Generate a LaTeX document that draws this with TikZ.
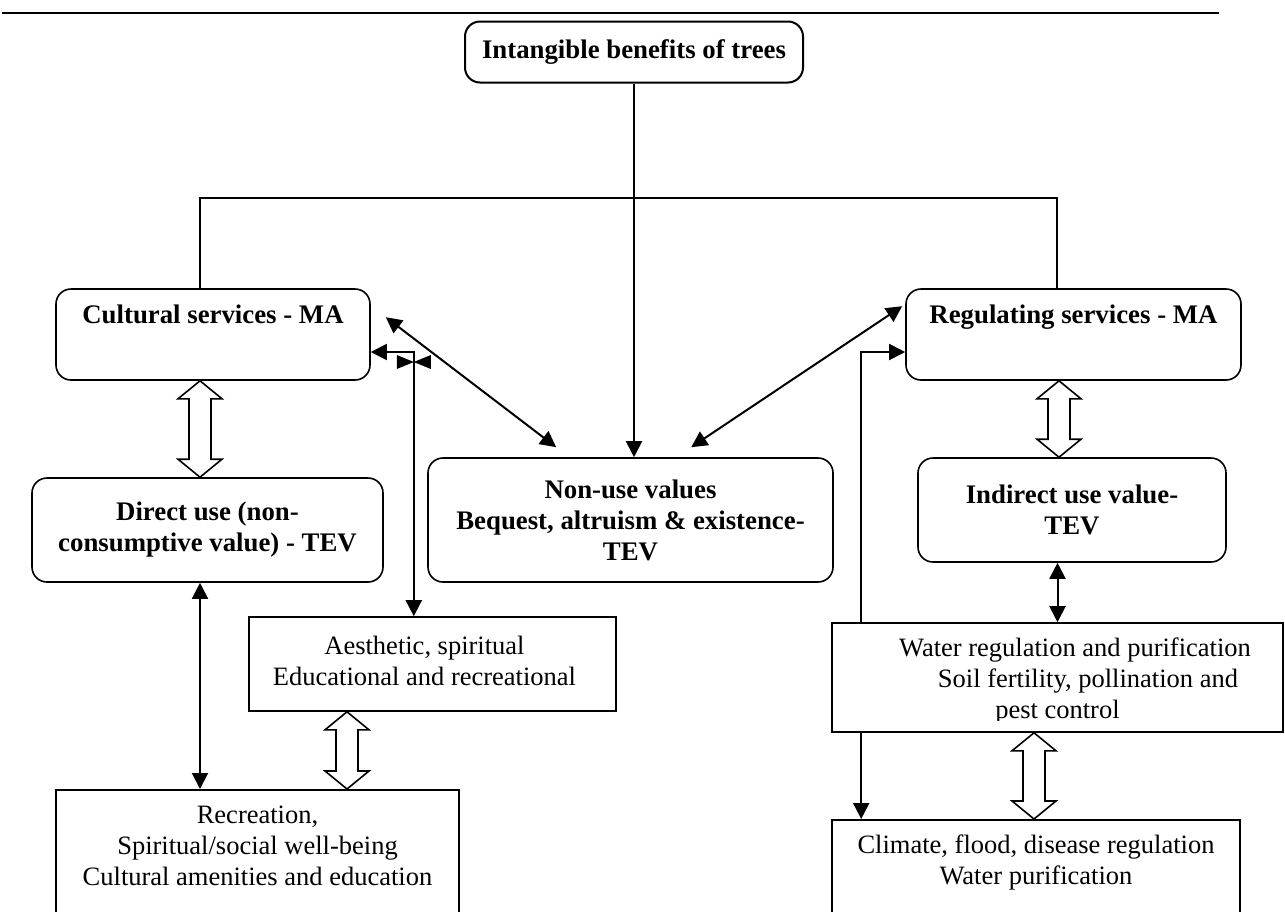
\documentclass[tikz,border=0pt]{standalone}
\usepackage{fontspec}
\setmainfont{Liberation Serif}
\usetikzlibrary{calc,arrows.meta}

% hollow double-headed block arrow between two named points (top, bottom)
\newcommand\hollowdbl[2]{%
  \draw[hollow] (#1) -- ($(#1)+(22,18)$) -- ($(#1)+(11,18)$) -- ($(#2)+(11,-18)$)
    -- ($(#2)+(22,-18)$) -- (#2) -- ($(#2)+(-22,-18)$) -- ($(#2)+(-11,-18)$)
    -- ($(#1)+(-11,18)$) -- ($(#1)+(-22,18)$) -- cycle;}

\tikzset{
  rbox/.style={draw, line width=1.6pt, rounded corners=15pt, fill=white, align=center,
    inner sep=0pt, font=\bfseries\fontsize{26.8}{31}\selectfont},
  sbox/.style={draw, line width=1.6pt, fill=white, inner sep=0pt},
  txt/.style={align=center, inner sep=0pt, font=\fontsize{26.5}{31}\selectfont},
  conn/.style={line width=2pt, -{Triangle[length=16pt,width=16pt]}},
  dconn/.style={line width=2pt, {Triangle[length=16pt,width=16pt]}-{Triangle[length=16pt,width=16pt]}},
  tree/.style={line width=1.6pt},
  hollow/.style={line width=1.6pt, fill=white, line join=miter},
}

\begin{document}
\begin{tikzpicture}[x=1pt, y=-1pt]
\useasboundingbox (0,0) rectangle (1285,911);
\clip (0,0) rectangle (1285,911);

% rule above the figure
\draw[line width=2.2pt] (2,13) -- (1219,13);

% boxes
\node[rbox, line width=2pt, minimum width=338pt, minimum height=61pt] (intang) at (634,52) {Intangible benefits of trees};
\node[rbox, minimum width=314pt, minimum height=91pt] (cult) at (213,334.5) {Cultural services - MA\\\strut};
\node[rbox, minimum width=335pt, minimum height=91pt] (reg) at (1073.5,334.5) {Regulating services - MA\\\strut};
\node[rbox, minimum width=351pt, minimum height=104pt] (direct) at (207.5,530) {Direct use (non-\\consumptive value) - TEV};
\node[rbox, minimum width=405pt, minimum height=124pt] (nonuse) at (630.5,520) {Non-use values\\Bequest, altruism \& existence-\\TEV};
\node[rbox, minimum width=308pt, minimum height=104pt] (indirect) at (1072,510) {Indirect use value-\\TEV};

\node[sbox, minimum width=367pt, minimum height=94pt] (aes) at (432.5,664) {};
\node[txt] at ($(aes.center)+(-8,-3)$) {Aesthetic, spiritual\\Educational and recreational};

\node[sbox, anchor=north, minimum width=403pt, minimum height=170pt] (recre) at (257.5,789) {};
\node[txt] at ($(recre.north)+(0,57)$) {Recreation,\\Spiritual/social well-being\\Cultural amenities and education};

\node[sbox, anchor=north, minimum width=408pt, minimum height=140pt] (climate) at (1036,819) {};
\node[txt] at ($(climate.north)+(0,43)$) {Climate, flood, disease regulation\\Water purification};

% tree from the top box to the two service boxes
\coordinate (jl) at ($(cult.north)+(-13,-90)$);
\coordinate (jr) at ($(reg.north)+(-16.5,-90)$);
\draw[tree] (jl |- cult.north) -- (jl) -- (jr) -- (jr |- reg.north);
\draw[conn] (intang.south) -- (intang.south |- nonuse.north);

% links to the non-use values
\draw[dconn] ($(cult.north east)+(15,29)$) -- ($(nonuse.north west)+(129,-10)$);
\draw[dconn] ($(reg.north west)+(-3,18)$) -- ($(nonuse.north west)+(264,-10)$);

% cultural services <-> aesthetic
\coordinate (cv) at ($(cult.east)+(43,17.5)$);
\draw[dconn] ($(cult.east)+(0,17.5)$) -- (cv) -- (cv |- aes.north);
\coordinate (bow) at ($(cv)+(0,10)$);
\fill ($(bow)+(-17,-7)$) -- ($(bow)+(-17,7)$) -- (bow) -- cycle;
\fill ($(bow)+(17,-7)$) -- ($(bow)+(17,7)$) -- (bow) -- cycle;

% regulating services <-> climate (runs behind the water box)
\coordinate (rv) at ($(reg.west)+(-44,17.5)$);
\draw[dconn] ($(reg.west)+(0,17.5)$) -- (rv) -- (rv |- climate.north);

\node[sbox, minimum width=451pt, minimum height=109pt] (water) at (1057.5,677.5) {};
\begin{scope}
  \clip (water.north west) rectangle ($(water.south east)+(0,-12)$);
  \node[txt] at ($(water.center)+(0,3)$) {\hspace*{35pt}Water regulation and purification\\\hspace*{61pt}Soil fertility, pollination and\\pest control};
\end{scope}

\draw[dconn] (water.north) -- (water.north |- indirect.south);

\coordinate (dv) at ($(direct.south)+(-7.5,0)$);
\draw[dconn] (dv) -- (dv |- recre.north);

% hollow block arrows
\coordinate (h1t) at ($(cult.south)+(-13,0)$);
\coordinate (h1b) at (h1t |- direct.north);
\hollowdbl{h1t}{h1b}
\coordinate (h2t) at ($(aes.south)+(-85.5,0)$);
\coordinate (h2b) at (h2t |- recre.north);
\hollowdbl{h2t}{h2b}
\coordinate (h3t) at ($(reg.south)+(-14.5,0)$);
\coordinate (h3b) at (h3t |- indirect.north);
\hollowdbl{h3t}{h3b}
\coordinate (h4t) at ($(water.south)+(-23.5,0)$);
\coordinate (h4b) at (h4t |- climate.north);
\hollowdbl{h4t}{h4b}
\end{tikzpicture}
\end{document}
